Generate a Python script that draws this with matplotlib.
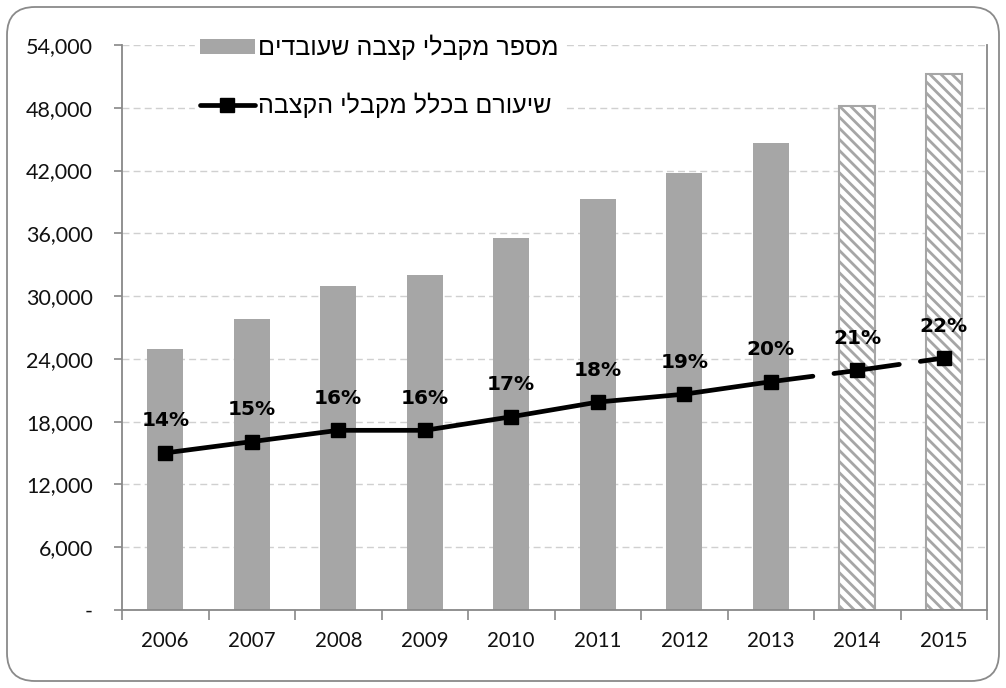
import matplotlib
matplotlib.use("Agg")
import matplotlib.pyplot as plt
from matplotlib.patches import FancyBboxPatch
from matplotlib.transforms import IdentityTransform
from matplotlib.ticker import FuncFormatter, FixedLocator

years = ['2006', '2007', '2008', '2009', '2010', '2011', '2012', '2013', '2014', '2015']
workers = [24900, 27800, 31000, 32000, 35600, 39300, 41800, 44600, 48200, 51200]
share = [0.139, 0.149, 0.159, 0.159, 0.171, 0.184, 0.191, 0.202, 0.212, 0.223]
share_labels = ['14%', '15%', '16%', '16%', '17%', '18%', '19%', '20%', '21%', '22%']
n_actual = 8  # 2014-2015 are forecasts
label_bars = 'מספר מקבלי קצבה שעובדים'
label_line = 'שיעורם בכלל מקבלי הקצבה'
yticks = [0, 6000, 12000, 18000, 24000, 30000, 36000, 42000, 48000, 54000]

def visual(s):
    return s[::-1]

plt.rcParams['font.family'] = ['Lato', 'DejaVu Sans']
plt.rcParams['hatch.linewidth'] = 2.0

fig = plt.figure(figsize=(10.06, 6.88), dpi=100)
ax = fig.add_axes([122/1006, 1-610/688, (987-122)/1006, (610-45)/688])

grey = '#a6a6a6'
axis_grey = '#888888'
x = list(range(len(years)))
bars = ax.bar(x[:n_actual], workers[:n_actual], width=0.42, color=grey, zorder=2, label=visual(label_bars))
ax.bar(x[n_actual:], workers[n_actual:], width=0.42, color='white', edgecolor=grey,
       hatch='\\\\\\', linewidth=1.5, zorder=2)

ax.set_xlim(-0.5, len(years)-0.5)
ax.set_ylim(0, 54000)
ax.set_yticks(yticks)
ax.yaxis.set_major_formatter(FuncFormatter(lambda v, p: '-' if v == 0 else f'{int(v):,}'))
ax.set_xticks(x)
ax.set_xticklabels(years)
ax.xaxis.set_minor_locator(FixedLocator([i - 0.5 for i in range(len(years)+1)]))
ax.tick_params(axis='x', which='major', length=0, pad=15, labelsize=14.8, labelcolor='#111111')
ax.tick_params(axis='x', which='minor', length=7, color=axis_grey, width=1.2)
ax.tick_params(axis='y', length=6, color=axis_grey, width=1.2, labelsize=15.5, pad=15,
               labelcolor='#111111')
ax.grid(axis='y', linestyle=(0, (5, 3)), color='#d0d0d0', linewidth=1, zorder=0)
ax.set_axisbelow(True)
ax.spines['top'].set_visible(False)
for s in ['left', 'bottom', 'right']:
    ax.spines[s].set_color(axis_grey)
    ax.spines[s].set_linewidth(1.3)

ax2 = ax.twinx()
ax2.set_ylim(0, 0.5)
ax2.set_yticks([])
for s in ['top', 'left', 'bottom', 'right']:
    ax2.spines[s].set_visible(False)

lw = 3.4
line, = ax2.plot(x[:n_actual], share[:n_actual], color='black', linewidth=lw,
                 marker='s', markersize=10, zorder=5, label=visual(label_line),
                 solid_capstyle='round')
for i in range(n_actual - 1, len(years) - 1):
    ax2.plot(x[i:i+2], share[i:i+2], color='black', linewidth=lw,
             linestyle=(0, (9, 4.5)), dash_capstyle='round', zorder=4)
ax2.plot(x[n_actual:], share[n_actual:], linestyle='none', color='black',
         marker='s', markersize=10, zorder=5)

for i, lab in enumerate(share_labels):
    ax2.annotate(lab, (x[i], share[i]), xytext=(0, 23), textcoords='offset points',
                 ha='center', va='center', fontsize=14.5, fontweight='bold',
                 family=['DejaVu Sans'])

leg = ax2.legend(handles=[bars, line], loc='upper left',
                 bbox_to_anchor=(182/1006, 1-17/688), bbox_transform=fig.transFigure,
                 frameon=True, fancybox=False, framealpha=1, edgecolor='white',
                 prop={'family': ['Liberation Sans', 'DejaVu Sans'], 'size': 18},
                 handlelength=2.2, handleheight=0.55, handletextpad=0.15,
                 labelspacing=1.3, borderpad=0.2)
leg.set_zorder(10)

border = FancyBboxPatch((7, 7), 992, 674, boxstyle='round,pad=0,rounding_size=28',
                        transform=IdentityTransform(), facecolor='none',
                        edgecolor='#8a8a8a', linewidth=1.3)
fig.patches.append(border)

fig.savefig('out.png', dpi=100)
